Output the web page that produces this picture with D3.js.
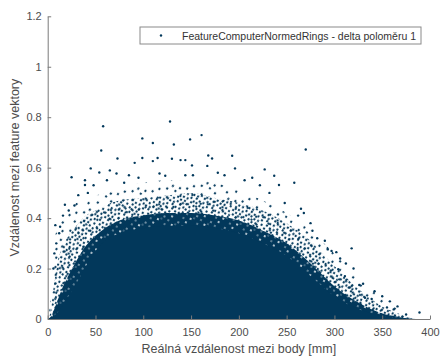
<!DOCTYPE html>
<html>
<head>
<meta charset="utf-8">
<script src="https://cdn.jsdelivr.net/npm/d3@7"></script>
<style>
  body { margin: 0; background: #fff; }
  text { font-family: "Liberation Sans", Arial, sans-serif; }
</style>
</head>
<body>
<div id="chart"></div>
<script>
// envelopes of the point cloud (x in mm)
var envX      = [0, 3, 6, 10, 15, 20, 30, 40, 50, 60, 75, 100, 125, 150, 175, 200, 225, 250, 275, 300, 325, 350, 365, 375, 385];
var solidTop  = [0, 0.003, 0.01, 0.025, 0.05, 0.08, 0.14, 0.21, 0.27, 0.31, 0.34, 0.36, 0.37, 0.37, 0.36, 0.34, 0.30, 0.25, 0.17, 0.09, 0.04, 0.012, 0.005, 0.001, 0];
var holeTop   = [0, 0.008, 0.03, 0.07, 0.12, 0.16, 0.23, 0.29, 0.33, 0.36, 0.39, 0.41, 0.42, 0.42, 0.41, 0.39, 0.35, 0.30, 0.22, 0.13, 0.065, 0.022, 0.01, 0.003, 0];
var denseTop  = [0, 0.03, 0.12, 0.22, 0.28, 0.32, 0.37, 0.41, 0.43, 0.45, 0.47, 0.48, 0.49, 0.50, 0.48, 0.46, 0.43, 0.38, 0.31, 0.21, 0.12, 0.05, 0.025, 0.01, 0];
var sparseTop = [0, 0.08, 0.28, 0.36, 0.40, 0.43, 0.46, 0.48, 0.49, 0.50, 0.52, 0.54, 0.55, 0.55, 0.54, 0.51, 0.47, 0.42, 0.35, 0.26, 0.16, 0.085, 0.045, 0.02, 0];

// single stray points outside the cloud
var outX = [58, 128, 99, 110, 149, 161, 132, 270, 56, 73, 99, 168, 193, 172, 115, 139, 144, 130, 91, 110, 151, 167, 196, 227, 25, 45, 54, 65, 237, 242, 258, 265, 277, 318, 293, 302, 304, 311, 326, 316, 389, 375, 362, 355, 339, 332, 32, 39, 39, 8, 13, 18, 72, 80,
            117, 123, 144, 152, 178, 185, 206, 214, 222, 232, 248, 262, 268, 275, 282, 290, 297, 306, 312, 320, 330, 342, 350, 358, 366, 85, 95, 62, 48, 42, 28, 22, 16, 12, 9, 7, 6];
var outY = [0.764, 0.783, 0.716, 0.698, 0.712, 0.729, 0.692, 0.672, 0.668, 0.636, 0.638, 0.648, 0.647, 0.636, 0.638, 0.630, 0.630, 0.635, 0.619, 0.626, 0.609, 0.607, 0.597, 0.593, 0.562, 0.597, 0.581, 0.589, 0.568, 0.531, 0.540, 0.437, 0.350, 0.280, 0.276, 0.265, 0.197, 0.170, 0.135, 0.125, 0.026, 0.018, 0.038, 0.046, 0.079, 0.084, 0.491, 0.531, 0.550, 0.372, 0.366, 0.453, 0.577, 0.540,
            0.577, 0.568, 0.570, 0.57, 0.58, 0.57, 0.55, 0.56, 0.53, 0.50, 0.46, 0.41, 0.42, 0.38, 0.32, 0.31, 0.27, 0.24, 0.22, 0.20, 0.14, 0.11, 0.09, 0.07, 0.05, 0.57, 0.56, 0.55, 0.53, 0.50, 0.45, 0.43, 0.41, 0.34, 0.30, 0.26, 0.20];

var xTicks = [0, 50, 100, 150, 200, 250, 300, 350, 400];
var yTicks = [0, 0.2, 0.4, 0.6, 0.8, 1, 1.2];

var legendLabel = "FeatureComputerNormedRings - delta poloměru 1";
var xLabel = "Reálná vzdálenost mezi body [mm]";
var yLabel = "Vzdálenost mezi feature vektory";

var W = 443, H = 356;
var margin = {left: 47.7, right: 13, top: 16.3, bottom: 37};
var col = "#02385b";
var axCol = "#7a7a7a";
var txtCol = "#4d4d4d";

var svg = d3.select("#chart").append("svg").attr("width", W).attr("height", H);

var x = d3.scaleLinear().domain([0, 400]).range([margin.left, W - margin.right]);
var y = d3.scaleLinear().domain([0, 1.2]).range([H - margin.bottom, margin.top]);

// dot textures for the speckled edge of the cloud
var defs = svg.append("defs");
function dotPattern(id, w, h, rot, dots, bg){
  var p = defs.append("pattern").attr("id", id)
    .attr("patternUnits", "userSpaceOnUse").attr("width", w).attr("height", h)
    .attr("patternTransform", "rotate(" + rot + ")");
  if(bg){
    p.append("rect").attr("width", w).attr("height", h).attr("fill", col);
  }
  dots.forEach(function(d){
    p.append("circle").attr("cx", d[0]).attr("cy", d[1]).attr("r", d[2] || 1.15).attr("fill", bg ? "#fff" : col);
  });
}
// solid with white specks
dotPattern("holePat", 15, 13, 23, [[3,2,0.9],[11,5,0.8],[6,10,1],[14,12,0.7],[1,7,0.7],[9,8,0.6]], true);
dotPattern("densePat", 18, 17, 31, [[1,1],[5,2],[9,1.5],[14,3],[3,5],[7,6],[11,5.5],[16,7],[2,9],[6,10],[10,9],[13,11],[17,12],[4,13],[8,14],[12,15.5],[15,16],[1,15.5],[9.5,12]]);
dotPattern("sparsePat", 26, 23, 37, [[2,2],[13,4],[21,1],[7,9],[18,11],[3,15],[11,17],[23,19],[16,21.5]]);

function area(hi){
  return d3.area()
    .x(function(d, i){ return x(envX[i]); })
    .y0(y(0))
    .y1(function(d, i){ return y(hi[i]); })
    .curve(d3.curveMonotoneX)(envX);
}

// layered from the outside in, so no seams between bands
svg.append("path").attr("d", area(sparseTop)).attr("fill", "url(#sparsePat)");
svg.append("path").attr("d", area(denseTop)).attr("fill", "url(#densePat)");
svg.append("path").attr("d", area(holeTop)).attr("fill", "url(#holePat)");
svg.append("path").attr("d", area(solidTop)).attr("fill", col);

svg.append("g").selectAll("circle")
  .data(outX)
  .enter().append("circle")
    .attr("cx", function(d){ return x(d); })
    .attr("cy", function(d, i){ return y(outY[i]); })
    .attr("r", 1.2)
    .attr("fill", col);

// axes (MATLAB style, ticks inward, no box)
var xAxis = svg.append("g").attr("transform", "translate(0," + y(0) + ")")
  .call(d3.axisBottom(x).tickValues(xTicks).tickSize(-3.5).tickPadding(9).tickSizeOuter(0));
var yAxis = svg.append("g").attr("transform", "translate(" + x(0) + ",0)")
  .call(d3.axisLeft(y).tickValues(yTicks).tickSize(-3.5).tickPadding(6).tickSizeOuter(0)
    .tickFormat(function(d){ return d3.format("~g")(d); }));

[xAxis, yAxis].forEach(function(a){
  a.select(".domain").attr("stroke", axCol);
  a.selectAll(".tick line").attr("stroke", axCol);
  a.selectAll(".tick text").attr("fill", txtCol).style("font-size", "11px");
});

svg.append("text")
  .attr("x", (x(0) + x(400)) / 2).attr("y", H - 3)
  .attr("text-anchor", "middle").attr("fill", txtCol).style("font-size", "12.5px")
  .text(xLabel);

svg.append("text")
  .attr("transform", "translate(19," + (y(0) + y(1.2)) / 2 + ") rotate(-90)")
  .attr("text-anchor", "middle").attr("fill", txtCol).style("font-size", "12.5px")
  .text(yLabel);

// legend
var lg = svg.append("g");
lg.append("rect").attr("x", 140).attr("y", 27).attr("width", 281).attr("height", 17)
  .attr("fill", "#fff").attr("stroke", "#8a8a8a").attr("stroke-width", 1);
lg.append("circle").attr("cx", 161).attr("cy", 35.5).attr("r", 1.2).attr("fill", col);
lg.append("text").attr("x", 182).attr("y", 39.5).attr("fill", "#333")
  .style("font-size", "10.5px").text(legendLabel);
</script>
</body>
</html>
